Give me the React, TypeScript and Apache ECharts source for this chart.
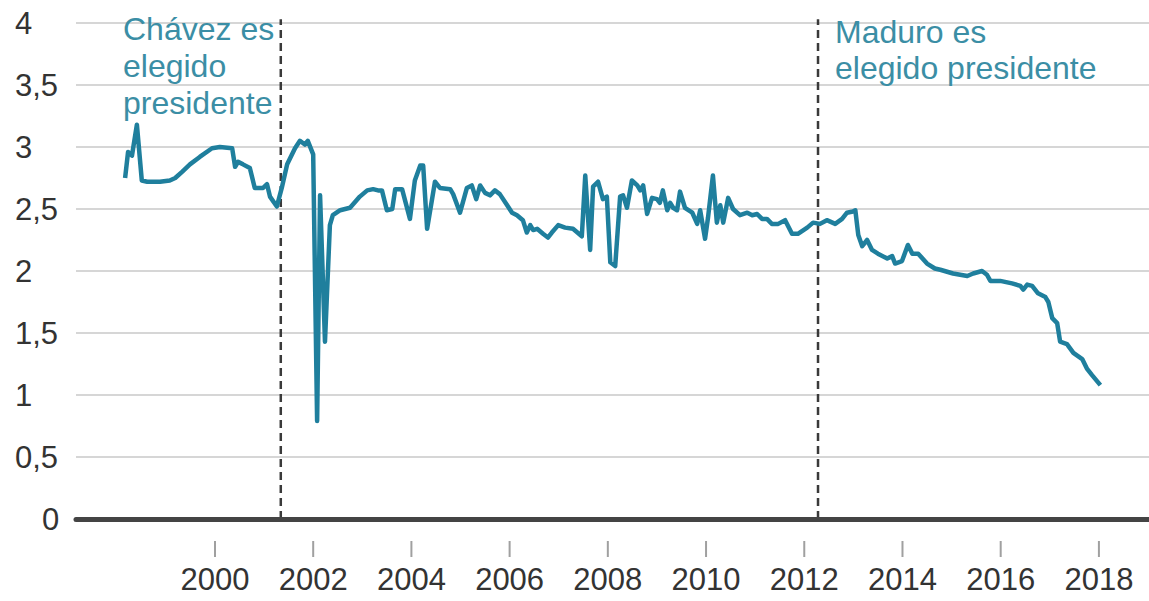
import React, { useEffect, useRef } from "react";
import * as echarts from "echarts";

const years: number[] = [
  1998.17, 1998.23, 1998.31, 1998.41, 1998.51, 1998.62, 1998.88, 1999.08, 1999.19, 1999.33,
  1999.49, 1999.69, 1999.94, 2000.1, 2000.35, 2000.41, 2000.47, 2000.57, 2000.71, 2000.81,
  2000.98, 2001.06, 2001.12, 2001.26, 2001.36, 2001.47, 2001.63, 2001.73, 2001.83, 2001.89,
  2002.0, 2002.08, 2002.14, 2002.24, 2002.34, 2002.4, 2002.55, 2002.75, 2002.95,
  2003.1, 2003.22, 2003.32, 2003.4, 2003.5, 2003.61, 2003.67, 2003.81, 2003.97, 2004.07,
  2004.18, 2004.24, 2004.32, 2004.48, 2004.58, 2004.79, 2004.85, 2004.99, 2005.13, 2005.23,
  2005.32, 2005.4, 2005.5, 2005.6, 2005.7, 2005.8, 2005.95, 2006.05, 2006.15, 2006.27,
  2006.35, 2006.42, 2006.48, 2006.56, 2006.68, 2006.78, 2006.86, 2006.99, 2007.13, 2007.29,
  2007.47, 2007.54, 2007.64, 2007.7, 2007.8, 2007.9, 2007.98, 2008.05, 2008.15, 2008.25,
  2008.31, 2008.39, 2008.49, 2008.6, 2008.66, 2008.72, 2008.8, 2008.9, 2009.0, 2009.06,
  2009.12, 2009.21, 2009.27, 2009.33, 2009.41, 2009.47, 2009.57, 2009.72, 2009.82, 2009.88,
  2009.98, 2010.04, 2010.14, 2010.22, 2010.29, 2010.35, 2010.45, 2010.55, 2010.69, 2010.84,
  2010.94, 2011.04, 2011.14, 2011.24, 2011.34, 2011.47, 2011.61, 2011.75, 2011.87, 2012.06,
  2012.18, 2012.32, 2012.46, 2012.63, 2012.77, 2012.87, 2012.99, 2013.04, 2013.1, 2013.18,
  2013.28, 2013.38, 2013.5, 2013.69, 2013.79, 2013.85, 2013.99, 2014.11, 2014.2, 2014.32,
  2014.5, 2014.66, 2014.77, 2015.03, 2015.32, 2015.44, 2015.62, 2015.72, 2015.79, 2015.99,
  2016.23, 2016.4, 2016.46, 2016.54, 2016.64, 2016.76, 2016.91, 2016.97, 2017.05, 2017.15,
  2017.21, 2017.35, 2017.48, 2017.66, 2017.76, 2017.86, 2018.03,
];

const values: number[] = [
  2.75, 2.96, 2.93, 3.18, 2.73, 2.72, 2.72, 2.73, 2.75, 2.8,
  2.86, 2.92, 2.99, 3.0, 2.99, 2.84, 2.88, 2.86, 2.83, 2.67,
  2.67, 2.7, 2.6, 2.52, 2.67, 2.86, 2.99, 3.05, 3.02, 3.05,
  2.94, 0.79, 2.61, 1.43, 2.37, 2.45, 2.49, 2.51, 2.6,
  2.65, 2.66, 2.65, 2.65, 2.49, 2.5, 2.66, 2.66, 2.42, 2.73,
  2.85, 2.85, 2.34, 2.72, 2.67, 2.66, 2.62, 2.47, 2.67, 2.69,
  2.58, 2.69, 2.63, 2.61, 2.65, 2.62, 2.53, 2.47, 2.45, 2.41,
  2.31, 2.37, 2.33, 2.34, 2.3, 2.27, 2.31, 2.37, 2.35, 2.34,
  2.28, 2.77, 2.17, 2.68, 2.72, 2.58, 2.6, 2.07, 2.04, 2.6,
  2.61, 2.51, 2.73, 2.69, 2.65, 2.69, 2.46, 2.59, 2.58, 2.55,
  2.65, 2.49, 2.55, 2.51, 2.49, 2.64, 2.51, 2.47, 2.38, 2.49,
  2.26, 2.43, 2.77, 2.39, 2.53, 2.39, 2.59, 2.5, 2.45, 2.47,
  2.45, 2.46, 2.42, 2.42, 2.38, 2.38, 2.41, 2.3, 2.3, 2.35,
  2.39, 2.38, 2.41, 2.38, 2.42, 2.47, 2.48, 2.49, 2.29, 2.2,
  2.25, 2.17, 2.14, 2.1, 2.12, 2.06, 2.08, 2.21, 2.14, 2.14,
  2.06, 2.02, 2.01, 1.98, 1.96, 1.98, 2.0, 1.97, 1.92, 1.92,
  1.9, 1.88, 1.85, 1.89, 1.88, 1.82, 1.79, 1.75, 1.62, 1.58,
  1.43, 1.41, 1.34, 1.29, 1.21, 1.16, 1.08,
];

const tickYears: number[] = [2000, 2002, 2004, 2006, 2008, 2010, 2012, 2014, 2016, 2018];
const eventYears: number[] = [2001.34, 2012.28];
const eventLabels: string[] = ["Chávez es\nelegido\npresidente", "Maduro es\nelegido presidente"];

const X_MIN = 1997.17;
const X_MAX = 2019.02;
const Y_TOP = 4.03;

export default function App() {
  const ref = useRef<HTMLDivElement>(null);

  useEffect(() => {
    if (!ref.current) return;
    const chart = echarts.init(ref.current, null, { renderer: "svg" });
    const font = "'Liberation Sans', Arial, Helvetica, sans-serif";
    const data = years.map((y, i) => [y, values[i]]);

    const dashedSeries = eventYears.map((y) => ({
      type: "line",
      xAxisIndex: 0,
      data: [
        [y, 0],
        [y, Y_TOP],
      ],
      showSymbol: false,
      symbol: "none",
      clip: false,
      silent: true,
      z: 2,
      lineStyle: { color: "#3a3a3a", type: [8, 5], width: 2.5 },
    }));

    chart.setOption({
      animation: false,
      backgroundColor: "#ffffff",
      textStyle: { fontFamily: font },
      grid: { left: 76, right: 0, top: 23, bottom: 82, containLabel: false },
      xAxis: [
        {
          type: "value",
          min: X_MIN,
          max: X_MAX,
          position: "bottom",
          z: 5,
          axisLine: { show: true, onZero: false, lineStyle: { color: "#444444", width: 5 } },
          axisTick: { show: false },
          axisLabel: { show: false },
          splitLine: { show: false },
        },
        {
          type: "value",
          min: X_MIN,
          max: X_MAX,
          position: "bottom",
          offset: 22,
          axisLine: { show: false },
          axisTick: { show: false },
          axisLabel: {
            show: true,
            customValues: tickYears,
            margin: 23,
            fontSize: 31,
            color: "#333333",
            fontFamily: font,
            formatter: (v: number) => String(Math.round(v)),
          },
          splitLine: { show: false },
        },
      ],
      yAxis: {
        type: "value",
        min: 0,
        max: 4,
        interval: 0.5,
        axisLine: { show: false },
        axisTick: { show: false },
        axisLabel: {
          margin: 61,
          align: "left",
          fontSize: 31,
          color: "#333333",
          fontFamily: font,
          formatter: (v: number) =>
            v === 0 ? "{z|0}" : String(v).replace(".", ","),
          rich: {
            z: { fontSize: 31, color: "#333333", fontFamily: font, padding: [0, 0, 0, 27] },
          },
        },
        splitLine: { show: true, lineStyle: { color: "#d6d6d6", width: 2 } },
      },
      graphic: [
        {
          type: "text",
          left: 123,
          top: 10,
          z: 10,
          style: {
            text: eventLabels[0],
            fontSize: 32,
            lineHeight: 37,
            fill: "#3b8ea5",
            fontFamily: font,
          },
        },
        {
          type: "text",
          left: 835,
          top: 14,
          z: 10,
          style: {
            text: eventLabels[1],
            fontSize: 32,
            lineHeight: 36,
            fill: "#3b8ea5",
            fontFamily: font,
          },
        },
      ],
      series: [
        ...dashedSeries,
        {
          type: "custom",
          xAxisIndex: 0,
          clip: false,
          silent: true,
          data: tickYears.map((y) => [y]),
          renderItem: (_params: any, api: any) => {
            const p = api.coord([api.value(0), 0]);
            return {
              type: "line",
              shape: { x1: p[0], y1: p[1] + 22, x2: p[0], y2: p[1] + 38 },
              style: { stroke: "#a0a0a0", lineWidth: 2 },
            };
          },
        },
        {
          type: "line",
          xAxisIndex: 0,
          data,
          showSymbol: false,
          symbol: "none",
          lineStyle: { color: "#1f7f9d", width: 4.5, join: "round" },
          z: 3,
        },
      ],
    });

    return () => chart.dispose();
  }, []);

  return <div ref={ref} style={{ width: 1149, height: 601, position: "absolute", left: 0, top: 0 }} />;
}
